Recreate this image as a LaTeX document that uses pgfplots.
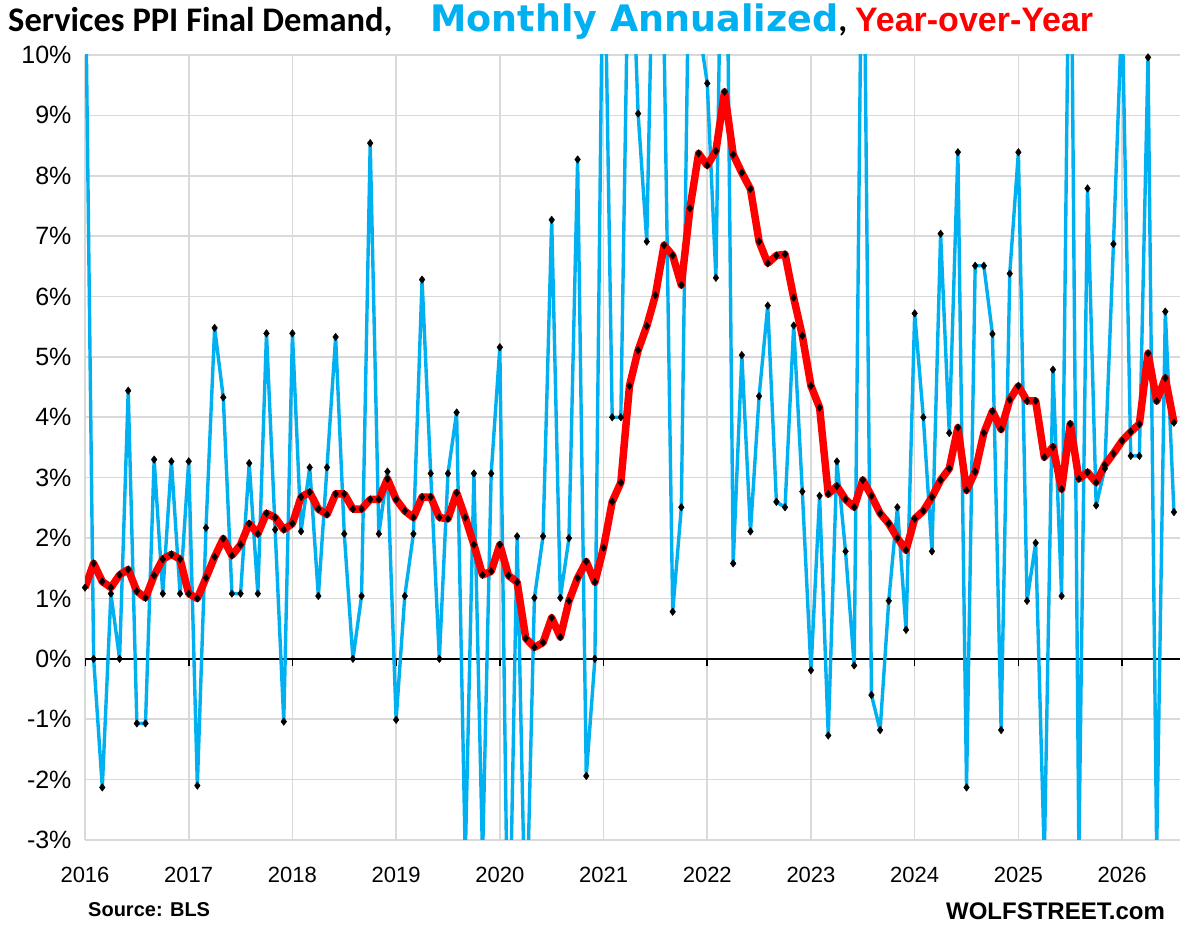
\documentclass[border=0pt]{standalone}
\usepackage{fontspec}
\setmainfont{Carlito}
\newfontfamily\arialfont{Liberation Sans}
\newfontfamily\widefont{DejaVu Sans}
\usepackage{pgfplots}
\usepackage{pgfplotstable}
\pgfplotsset{compat=1.18}
\definecolor{xlblue}{HTML}{00B0F0}
\definecolor{xlred}{HTML}{FF0000}
\definecolor{gridgray}{HTML}{D9D9D9}

% i = month index (0 = Jan 2016); blue = monthly annualized; red = year-over-year
\pgfplotstableread{
i blue red
0 12 1.18
1 0.0 1.58
2 -2.13 1.28
3 1.08 1.18
4 0.0 1.39
5 4.44 1.48
6 -1.07 1.12
7 -1.07 1.01
8 3.30 1.38
9 1.08 1.65
10 3.27 1.73
11 1.08 1.65
12 3.27 1.08
13 -2.10 1.00
14 2.17 1.34
15 5.48 1.69
16 4.33 1.99
17 1.08 1.71
18 1.08 1.89
19 3.24 2.24
20 1.08 2.07
21 5.39 2.41
22 2.14 2.34
23 -1.04 2.14
24 5.39 2.24
25 2.11 2.68
26 3.17 2.76
27 1.04 2.48
28 3.17 2.39
29 5.33 2.73
30 2.07 2.73
31 0.0 2.48
32 1.04 2.48
33 8.54 2.64
34 2.07 2.64
35 3.10 2.98
36 -1.01 2.64
37 1.04 2.45
38 2.07 2.34
39 6.28 2.68
40 3.07 2.68
41 0.0 2.34
42 3.07 2.32
43 4.08 2.75
44 -3.3 2.34
45 3.07 1.89
46 -3.3 1.39
47 3.07 1.45
48 5.16 1.89
49 -5.7 1.38
50 2.03 1.27
51 -4.9 0.34
52 1.01 0.19
53 2.03 0.27
54 7.27 0.68
55 1.01 0.36
56 2.00 0.96
57 8.27 1.34
58 -1.94 1.61
59 0.0 1.27
60 13 1.84
61 4.00 2.60
62 4.00 2.92
63 13 4.52
64 9.03 5.11
65 6.91 5.51
66 14 6.02
67 10.3 6.85
68 0.78 6.68
69 2.51 6.19
70 13 7.46
71 10.5 8.37
72 9.53 8.17
73 6.31 8.41
74 16 9.39
75 1.58 8.35
76 5.03 8.05
77 2.11 7.78
78 4.35 6.91
79 5.85 6.55
80 2.60 6.68
81 2.51 6.70
82 5.52 5.98
83 2.77 5.35
84 -0.19 4.52
85 2.70 4.16
86 -1.27 2.73
87 3.27 2.86
88 1.78 2.64
89 -0.11 2.51
90 14 2.96
91 -0.6 2.70
92 -1.18 2.41
93 0.96 2.24
94 2.51 2.00
95 0.48 1.80
96 5.72 2.32
97 4.00 2.45
98 1.78 2.68
99 7.04 2.96
100 3.74 3.15
101 8.39 3.83
102 -2.13 2.79
103 6.51 3.10
104 6.51 3.74
105 5.38 4.10
106 -1.18 3.80
107 6.38 4.29
108 8.39 4.52
109 0.96 4.27
110 1.92 4.27
111 -3.3 3.34
112 4.79 3.51
113 1.04 2.81
114 14 3.89
115 -3.2 2.98
116 7.79 3.09
117 2.54 2.92
118 3.15 3.21
119 6.87 3.40
120 10.8 3.61
121 3.36 3.76
122 3.36 3.89
123 9.96 5.06
124 -3.2 4.27
125 5.75 4.65
126 2.43 3.91
}\ppidata

\begin{document}
\begin{tikzpicture}[x=1pt,y=1pt]
\path (0,0) rectangle (1192,933);
\begin{axis}[
  at={(85pt,93pt)}, anchor=south west,
  scale only axis, width=1095pt, height=785pt,
  xmin=0, xmax=126.7, ymin=-3, ymax=10,
  axis line style={draw=none},
  major tick length=0pt,
  grid=major,
  grid style={gridgray, line width=1.6pt},
  xtick={0,12,...,120},
  xticklabels={2016,2017,2018,2019,2020,2021,2022,2023,2024,2025,2026},
  ytick={-3,-2,...,10},
  yticklabel={\pgfmathparse{int(\tick)}\pgfmathresult\%},
  /pgf/number format/assume math mode=true,
  tick label style={font=\arialfont\fontsize{22}{26}\selectfont, text=black},
  yticklabel style={font=\arialfont\fontsize{25}{28}\selectfont, xshift=-10pt},
  xticklabel style={yshift=-24pt},
  line join=round,
]
\draw[black, line width=1.6pt] (axis cs:0,0) -- (axis cs:126.7,0);
\pgfplotsinvokeforeach{0,12,24,36,48,60,72,84,96,108,120}{
  \draw[black, line width=1.6pt] (axis cs:#1,0) -- ++(0pt,-7pt);
}
\addplot[xlblue, line width=3.4pt, mark=diamond*, mark size=3.8pt,
  mark options={black, fill=black, line width=0.4pt}]
  table[x=i, y=blue]{\ppidata};
\addplot[xlred, line width=7.5pt, mark=diamond*, mark size=3.8pt,
  mark options={black, fill=black, line width=0.4pt}]
  table[x=i, y=red]{\ppidata};
\end{axis}
\node[anchor=base west, inner sep=0pt] at (8,901)
  {\fontsize{34.5}{40}\selectfont\bfseries Services PPI Final Demand,\hspace{38pt}{\widefont\fontsize{36.5}{40}\selectfont\bfseries\textcolor{xlblue}{Monthly Annualized}}, {\arialfont\fontsize{34}{40}\selectfont\bfseries\textcolor{xlred}{Year-over-Year}}};
\node[anchor=base west, inner sep=0pt] at (88,16)
  {\arialfont\fontsize{20}{24}\selectfont\bfseries Source: BLS};
\node[anchor=base east, inner sep=0pt] at (1165,13)
  {\arialfont\fontsize{24}{28}\selectfont\bfseries WOLFSTREET.com};
\end{tikzpicture}
\end{document}
